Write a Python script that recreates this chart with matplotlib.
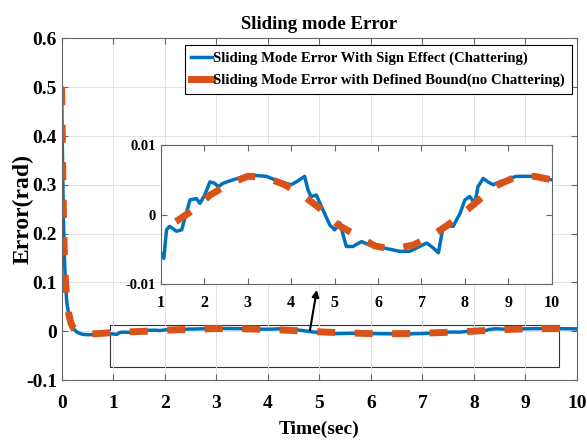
import matplotlib
matplotlib.use('Agg')
import matplotlib.pyplot as plt
from matplotlib.patches import Rectangle

plt.rcParams['font.family'] = ['Liberation Serif', 'DejaVu Serif']
plt.rcParams['font.weight'] = 'bold'

# error with sign function (chattering)
t_sign = [0.0, 0.01, 0.02, 0.035, 0.05, 0.07, 0.1, 0.14, 0.18, 0.23, 0.3, 0.4, 0.5, 0.65, 0.8,
          0.98, 1.07, 1.13, 1.2, 1.36, 1.48, 1.67, 1.82, 1.9, 2.01, 2.13, 2.24, 2.32, 2.43,
          2.66, 3.05, 3.43, 3.74, 4.0, 4.12, 4.31, 4.39, 4.46, 4.58, 4.7, 4.89, 5.0, 5.12,
          5.27, 5.42, 5.62, 5.81, 6.12, 6.5, 6.73, 6.89, 7.12, 7.27, 7.39, 7.5, 7.58, 7.73,
          7.89, 8.0, 8.11, 8.23, 8.3, 8.42, 8.53, 8.65, 8.8, 9.18, 9.56, 9.79, 10.0]
e_sign = [0.5, 0.41, 0.33, 0.23, 0.165, 0.105, 0.06, 0.032, 0.015, 0.005, -0.002, -0.006, -0.007,
          -0.0065, -0.006,
          -0.0053, -0.0063, -0.0022, -0.0017, -0.0024, -0.0022, 0.0021, 0.0023, 0.0016, 0.0028,
          0.0047, 0.0045, 0.004, 0.0045, 0.005, 0.0057, 0.0055, 0.0047, 0.0043, 0.0047, 0.0055,
          0.0035, 0.0026, 0.0028, 0.0011, -0.0015, -0.0022, -0.0012, -0.0046, -0.0046, -0.0039,
          -0.0044, -0.0048, -0.0053, -0.0053, -0.0048, -0.0041, -0.0048, -0.0055, -0.0017,
          -0.0015, -0.0017, 0.0002, 0.0021, 0.0026, 0.0016, 0.004, 0.0052, 0.0047, 0.0043,
          0.0047, 0.0055, 0.0055, 0.0053, 0.005]

# error with boundary layer (no chattering)
t_bound = [0.0, 0.01, 0.02, 0.035, 0.05, 0.07, 0.1, 0.14, 0.18, 0.23, 0.3, 0.4, 0.5, 0.65, 0.8,
           1.0, 1.4, 1.8, 2.13, 2.6, 3.0, 3.4, 3.85, 4.3, 4.66, 5.08, 5.47, 5.92, 6.3, 6.81,
           7.2, 7.61, 8.0, 8.42, 8.77, 9.2, 9.6, 10.0]
e_bound = [0.5, 0.42, 0.34, 0.24, 0.17, 0.11, 0.065, 0.035, 0.017, 0.006, 0.0, -0.004, -0.005,
           -0.005, -0.004,
           -0.0024, -0.0008, 0.0009, 0.0028, 0.0045, 0.0055, 0.0054, 0.0043, 0.0026, 0.0009,
           -0.0015, -0.0029, -0.0045, -0.005, -0.0044, -0.0032, -0.0015, 0.0004, 0.0026,
           0.0043, 0.0055, 0.0055, 0.005]

blue = '#0072BD'
orange = '#D95319'
edge = '#666666'
dash = (0, (2.6, 2.8))


def style_axes(ax, size):
    ax.tick_params(direction='in', top=True, right=True, labelsize=size,
                   color=edge, length=4, width=0.8)
    for s in ax.spines.values():
        s.set_color(edge)
        s.set_linewidth(0.8)


fig = plt.figure(figsize=(5.87, 4.41), dpi=100)
ax = fig.add_axes([0.105, 0.138, 0.878, 0.775])
ax.plot(t_sign, e_sign, color=blue, lw=2.5,
        label='Sliding Mode Error With Sign Effect (Chattering)')
ax.plot(t_bound, e_bound, color=orange, lw=5, linestyle=dash,
        label='Sliding Mode Error with Defined Bound(no Chattering)')
ax.set_xlim(0, 10)
ax.set_ylim(-0.1, 0.6)
ax.set_xticks(range(0, 11))
ax.set_yticks([-0.1, 0, 0.1, 0.2, 0.3, 0.4, 0.5, 0.6])
ax.set_yticklabels(['-0.1', '0', '0.1', '0.2', '0.3', '0.4', '0.5', '0.6'])
ax.grid(True, color='#e3e3e3', lw=0.7)
style_axes(ax, 14)
ax.tick_params(axis='x', pad=11)
ax.set_title('Sliding mode Error', fontsize=13.5, fontweight='bold', pad=7)
ax.set_xlabel('Time(sec)', fontsize=14, fontweight='bold', labelpad=6)
ax.set_ylabel('Error(rad)', fontsize=17, fontweight='bold')
ax.yaxis.set_label_coords(-0.054, 0.5)

leg = ax.legend(loc='upper right', bbox_to_anchor=(0.99, 0.98), borderaxespad=0,
                fontsize=10.6, handlelength=1.4, handletextpad=0.1,
                borderpad=0.45, labelspacing=0.55, fancybox=False, framealpha=1)
leg.get_frame().set_edgecolor('black')
leg.get_frame().set_linewidth(0.8)
for h in leg.get_lines():
    h.set_linestyle('-')

# zoom box and pointer
ax.add_patch(Rectangle((0.93, -0.073), 9.66 - 0.93, 0.086, fill=False,
                       edgecolor='#333333', lw=0.8))
ax.annotate('', xy=(4.96, 0.0905), xytext=(4.81, -0.003),
            arrowprops=dict(arrowstyle='-|>', color='black', lw=1.5, mutation_scale=10))

ins = fig.add_axes([0.274, 0.356, 0.666, 0.315])
ins.plot(t_sign, e_sign, color=blue, lw=2.5)
ins.plot(t_bound, e_bound, color=orange, lw=5, linestyle=dash)
ins.set_xlim(1, 10)
ins.set_ylim(-0.01, 0.01)
ins.set_xticks(range(1, 11))
ins.set_yticks([-0.01, 0, 0.01])
ins.set_yticklabels(['-0.01', '0', '0.01'])
style_axes(ins, 10.5)
ins.tick_params(axis='x', labelsize=11.5, pad=8)

fig.savefig('out.png', dpi=100)
